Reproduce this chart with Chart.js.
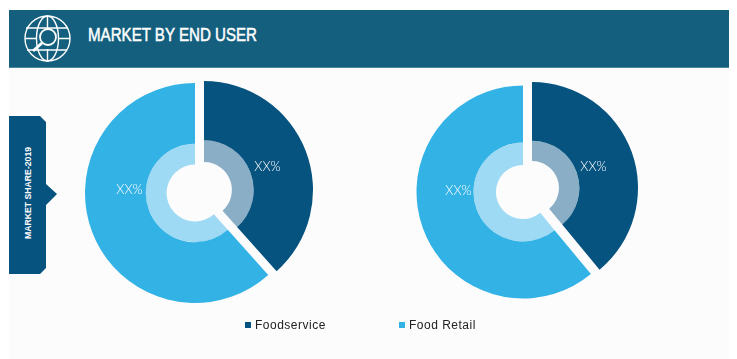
<!DOCTYPE html>
<html lang="en">
  <head>
    <meta charset="UTF-8" />
    <title>Market by end user</title>
    <script src="https://cdn.jsdelivr.net/npm/chart.js"></script>
    <style>
      html, body { margin: 0; padding: 0; background: #fff; overflow: hidden; }
      body { width: 737px; height: 359px; position: relative; font-family: "Liberation Sans", sans-serif; }
      .panel { position: absolute; left: 9px; top: 68px; width: 720px; height: 291px; background: #fcfcfc; }
      .header { position: absolute; left: 9px; top: 10px; width: 720px; height: 57px; background: #135f7d; border-bottom: 1px solid #4a86a0; }
      .header svg { position: absolute; left: 14px; top: 5px; }
      .title { position: absolute; left: 79px; top: 13px; color: #fff; font-size: 19px; line-height: 24px; white-space: nowrap;
        transform: scaleX(0.795); transform-origin: left center; -webkit-text-stroke: 0.5px #fff; }
      .tab { position: absolute; left: 9px; top: 116px; width: 49px; height: 158px; background: #07537f;
        clip-path: polygon(0 0, 31px 0, 37px 6px, 37px 68px, 48px 78px, 37px 89px, 37px 152px, 31px 158px, 0 158px); }
      .tab span { position: absolute; left: 19px; top: 77px; color: #fff; font-size: 8.7px; font-weight: bold; white-space: nowrap;
        transform: translate(-50%, -50%) rotate(-90deg); }
      canvas { position: absolute; }
      .pct { position: absolute; color: #fff; font-family: Lato, "Liberation Sans", sans-serif; font-weight: 300; font-size: 13px; line-height: 14px; transform: translate(-50%, -50%); }
      .legend { position: absolute; top: 318px; font-size: 12px; line-height: 14px; color: #222; letter-spacing: 0.5px; white-space: nowrap; }
      .legend i { position: absolute; left: -10px; top: 4px; width: 6px; height: 6px; }
    </style>
  </head>
  <body>
    <div class="panel"></div>
    <div class="header">
      <svg width="48" height="48" viewBox="0 0 48 48" fill="none" stroke="#fff" stroke-width="1.4">
        <circle cx="24.5" cy="23.5" r="22.5" />
        <ellipse cx="24.5" cy="23.5" rx="11" ry="22.5" />
        <path d="M24.5 1V13M24.5 34V46M3 13H44M2 23.5H14M35 23.5H47M4 35H44" />
        <circle cx="25" cy="22" r="8" fill="#135f7d" stroke-width="1.8" />
        <path d="M19 28L10 36" stroke-width="3" />
      </svg>
      <div class="title">MARKET BY END USER</div>
    </div>
    <div class="tab"><span>MARKET SHARE-2019</span></div>

    <!-- each donut is two layers so the Foodservice slice can sit apart at its full radius -->
    <canvas id="leftRetail" style="left: 75px; top: 73px"></canvas>
    <canvas id="leftFood" style="left: 84px; top: 70px"></canvas>
    <canvas id="rightRetail" style="left: 403px; top: 72px"></canvas>
    <canvas id="rightFood" style="left: 412px; top: 68px"></canvas>

    <div class="pct" style="left: 267.5px; top: 166px">XX%</div>
    <div class="pct" style="left: 129.5px; top: 189px">XX%</div>
    <div class="pct" style="left: 593.5px; top: 166px">XX%</div>
    <div class="pct" style="left: 458.5px; top: 190px">XX%</div>

    <div class="legend" style="left: 255px"><i style="background: #07537f"></i><span id="legend0"></span></div>
    <div class="legend" style="left: 409px"><i style="background: #33b2e6"></i><span id="legend1"></span></div>

    <script>
      const categories = ["Foodservice", "Food Retail"];
      const leftValues = [38.4, 61.6];
      const rightValues = [39, 61];

      const outerColors = ["#07537f", "#33b2e6"];
      const innerColors = ["#8aaec6", "#9fdaf5"];

      document.getElementById("legend0").textContent = categories[0];
      document.getElementById("legend1").textContent = categories[1];

      // shown = index of the slice this layer paints, the other one stays transparent
      function makeLayer(id, values, shown, radius, ring, hole) {
        const canvas = document.getElementById(id);
        canvas.width = 240;
        canvas.height = 240;
        const only = (colors) => colors.map((c, i) => (i === shown ? c : "transparent"));
        return new Chart(canvas, {
          type: "doughnut",
          data: {
            labels: categories,
            datasets: [
              { data: values, backgroundColor: only(outerColors), weight: radius - ring },
              { data: values, backgroundColor: only(innerColors), weight: ring - hole },
            ],
          },
          options: {
            responsive: false,
            animation: false,
            radius: radius,
            cutout: hole,
            elements: { arc: { borderWidth: 0 } },
            plugins: { legend: { display: false }, tooltip: { enabled: false } },
          },
        });
      }

      makeLayer("leftRetail", leftValues, 1, 110, 51.1, 31);
      makeLayer("leftFood", leftValues, 0, 109, 51.7, 30.7);
      makeLayer("rightRetail", rightValues, 1, 106.5, 52, 30.5);
      makeLayer("rightFood", rightValues, 0, 106, 50, 30.5);
    </script>
  </body>
</html>
